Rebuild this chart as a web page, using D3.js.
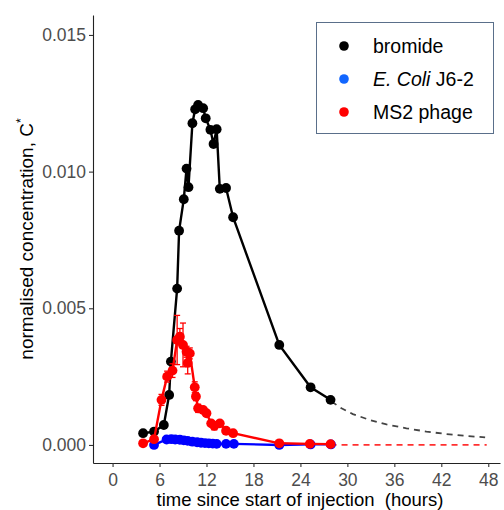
<!DOCTYPE html>
<html>
<head>
<meta charset="utf-8">
<script src="https://cdn.jsdelivr.net/npm/d3@7"></script>
<style>
  body { margin: 0; background: #fff; }
  svg { font-family: "Liberation Sans", Arial, sans-serif; }
</style>
</head>
<body>
<div id="chart"></div>
<script>
// Data (time in hours, normalised concentration)
const bromideTime = [3.9, 5.3, 6.55, 7.23, 7.45, 8.25, 8.5, 9.1, 9.45, 9.7, 10.2, 10.55, 10.93, 11.57, 11.9, 12.5, 12.9, 13.3, 13.7, 14.5, 15.4, 21.3, 25.3, 27.85];
const bromideConc = [0.00043, 0.00049, 0.00073, 0.00183, 0.00305, 0.00572, 0.00784, 0.00899, 0.01011, 0.00943, 0.01177, 0.01228, 0.01244, 0.01232, 0.01195, 0.01153, 0.01101, 0.01155, 0.00937, 0.0094, 0.00833, 0.00366, 0.00211, 0.00165];

const ecoliTime = [5.3, 6.9, 7.5, 8.0, 8.6, 9.1, 9.6, 10.2, 10.8, 11.3, 11.8, 12.3, 12.8, 13.3, 14.5, 15.5, 21.3, 25.3, 27.9];
const ecoliConc = [0.0, 0.0002, 0.00021, 0.0002, 0.00019, 0.00017, 0.00015, 0.00012, 0.0001, 0.00008, 0.00007, 0.00006, 0.00005, 0.00004, 0.00004, 0.00004, 0.0, 0.00002, 0.00002];

const ms2Time = [3.9, 5.3, 6.25, 6.97, 7.66, 8.25, 8.6, 9.0, 9.45, 9.6, 9.87, 10.5, 10.65, 10.93, 11.57, 12.0, 12.6, 13.0, 13.7, 14.5, 15.4, 21.3, 25.2, 27.85];
const ms2Conc = [0.00006, 0.00021, 0.00165, 0.0025, 0.00272, 0.00384, 0.00396, 0.00366, 0.00341, 0.003, 0.00335, 0.00211, 0.00177, 0.00134, 0.00128, 0.00116, 0.00079, 0.0007, 0.00079, 0.00052, 0.00043, 0.00006, 0.00004, 0.00003];
const ms2Err = [0, 0.00005, 0.0002, 0.0002, 0.00025, 0.0009, 0.0003, 0.0008, 0.0002, 0.0004, 0.0002, 0.0002, 0.00015, 0.00015, 0.0001, 0.0001, 0.0001, 0.00015, 0.0001, 0.0001, 0.00005, 0, 0, 0];

// Extrapolated tails (dashed)
const bromideTailTime = [27.97, 29.25, 30.7, 32.9, 35.0, 37.55, 40.1, 42.6, 45.2, 47.6];
const bromideTailConc = [0.00159, 0.00134, 0.00113, 0.00091, 0.00075, 0.00061, 0.00049, 0.0004, 0.00033, 0.00028];
const ms2TailTime = [27.85, 47.8];
const ms2TailConc = [0, 0];

const xTicks = [0, 6, 12, 18, 24, 30, 36, 42, 48];
const yTicks = [0, 0.005, 0.01, 0.015];

const legendLabels = ["bromide", "E. Coli J6-2", "MS2 phage"];
const legendColors = ["#000000", "#1166ff", "#ff0000"];

const W = 504, H = 510;
const svg = d3.select("#chart").append("svg")
    .attr("width", W)
    .attr("height", H);

const x = d3.scaleLinear().domain([-2.5, 49.5]).range([93, 500]);
const y = d3.scaleLinear().domain([-0.00066, 0.01573]).range([463, 15]);

const zip = (a, b) => a.map((t, i) => ({t: t, v: b[i]}));
const bromide = zip(bromideTime, bromideConc);
const ecoli = zip(ecoliTime, ecoliConc);
const ms2 = ms2Time.map((t, i) => ({t: t, v: ms2Conc[i], e: ms2Err[i]}));

const line = d3.line().x(d => x(d.t)).y(d => y(d.v));

// Dashed tails
svg.append("path")
    .datum(zip(bromideTailTime, bromideTailConc))
    .attr("d", line)
    .attr("fill", "none")
    .attr("stroke", "#444")
    .attr("stroke-width", 1.8)
    .attr("stroke-dasharray", "6,5");

svg.append("path")
    .datum(zip(ms2TailTime, ms2TailConc))
    .attr("d", line)
    .attr("fill", "none")
    .attr("stroke", "#ff3030")
    .attr("stroke-width", 1.8)
    .attr("stroke-dasharray", "6,5");

function drawSeries(data, color) {
    svg.append("path")
        .datum(data)
        .attr("d", line)
        .attr("fill", "none")
        .attr("stroke", color)
        .attr("stroke-width", 2.4);
    svg.append("g").selectAll("circle")
        .data(data)
        .enter()
        .append("circle")
        .attr("cx", d => x(d.t))
        .attr("cy", d => y(d.v))
        .attr("r", 4.9)
        .attr("fill", color);
}

drawSeries(bromide, "#000000");
drawSeries(ecoli, "#0000ff");

// MS2 error bars
const errG = svg.append("g")
    .attr("stroke", "#ff0000")
    .attr("stroke-width", 1.3);
ms2.filter(d => d.e > 0).forEach(d => {
    errG.append("line")
        .attr("x1", x(d.t)).attr("x2", x(d.t))
        .attr("y1", y(d.v - d.e)).attr("y2", y(d.v + d.e));
    [d.v - d.e, d.v + d.e].forEach(v => {
        errG.append("line")
            .attr("x1", x(d.t) - 3).attr("x2", x(d.t) + 3)
            .attr("y1", y(v)).attr("y2", y(v));
    });
});
drawSeries(ms2, "#ff0000");

// Axes
const xAxis = svg.append("g")
    .attr("transform", "translate(0,463)")
    .call(d3.axisBottom(x).tickValues(xTicks).tickSize(4).tickSizeOuter(0));
const yAxis = svg.append("g")
    .attr("transform", "translate(93,0)")
    .call(d3.axisLeft(y).tickValues(yTicks).tickSize(4).tickSizeOuter(0).tickFormat(d3.format(".3f")));

[xAxis, yAxis].forEach(g => {
    g.select(".domain").attr("stroke", "#222").attr("stroke-width", 1.1);
    g.selectAll(".tick line").attr("stroke", "#333").attr("stroke-width", 1.1);
    g.selectAll(".tick text")
        .attr("fill", "#4d4d4d")
        .style("font-size", "17.5px")
        .style("font-family", "Liberation Sans, Arial, sans-serif");
});
xAxis.selectAll(".tick text").attr("dy", "15.5px");

// Axis titles
svg.append("text")
    .attr("x", 300)
    .attr("y", 506)
    .attr("text-anchor", "middle")
    .style("font-size", "18.5px")
    .style("white-space", "pre")
    .text("time since start of injection  (hours)");

const yTitle = svg.append("text")
    .attr("transform", "translate(33,239) rotate(-90)")
    .attr("text-anchor", "middle")
    .style("font-size", "19px");
yTitle.append("tspan").text("normalised concentration, C");
yTitle.append("tspan").attr("dy", "-8").style("font-size", "12px").text("*");

// Legend
const legend = svg.append("g");
legend.append("rect")
    .attr("x", 316.5).attr("y", 22.5)
    .attr("width", 177).attr("height", 111)
    .attr("fill", "#fff")
    .attr("stroke", "#5a6f8a")
    .attr("stroke-width", 1);

legendLabels.forEach((lab, i) => {
    const yy = 46 + i * 33;
    legend.append("circle")
        .attr("cx", 344).attr("cy", yy)
        .attr("r", 4.8)
        .attr("fill", legendColors[i]);
    const t = legend.append("text")
        .attr("x", 373).attr("y", yy)
        .attr("dy", "0.35em")
        .style("font-size", "19.5px");
    if (i === 1) {
        t.append("tspan").style("font-style", "italic").text("E. Coli");
        t.append("tspan").text(" J6-2");
    } else {
        t.text(lab);
    }
});
</script>
</body>
</html>
